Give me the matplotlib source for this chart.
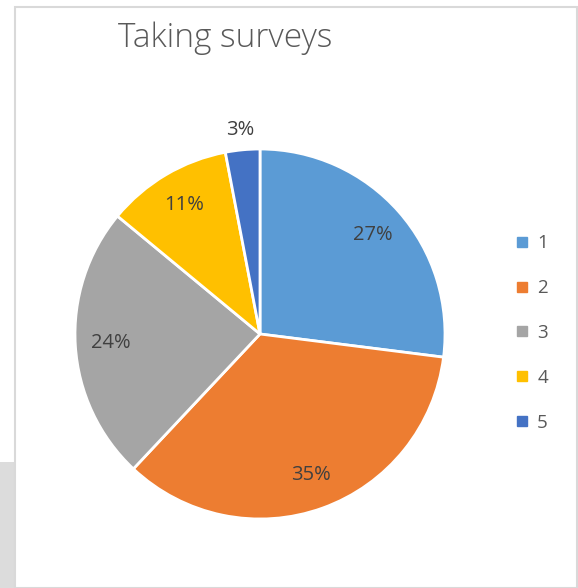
import matplotlib.pyplot as plt
import numpy as np
from matplotlib.lines import Line2D
from matplotlib.patches import Rectangle

plt.rcParams['font.family'] = ['Open Sans', 'DejaVu Sans']

labels = ['1', '2', '3', '4', '5']
values = [27, 35, 24, 11, 3]
colors = ['#5B9BD5', '#ED7D31', '#A5A5A5', '#FFC000', '#4472C4']

W, H = 578, 588
fig = plt.figure(figsize=(W / 100, H / 100), dpi=100)

# bit of the page behind on the left
fig.patches.append(Rectangle((0, 0), 14 / W, (H - 462) / H, transform=fig.transFigure,
                             facecolor='#dcdcdc', edgecolor='none'))
# chart frame
fig.patches.append(Rectangle((15 / W, 0), (577 - 15) / W, (H - 7) / H, transform=fig.transFigure,
                             fill=False, edgecolor='#d9d9d9', linewidth=1.5))

cx, cy, r = 260, 334, 185
ax = fig.add_axes([(cx - r) / W, (H - cy - r) / H, 2 * r / W, 2 * r / H])

wedges, texts, autotexts = ax.pie(values, colors=colors, startangle=90, counterclock=False,
                                  autopct='%1.0f%%', pctdistance=0.81,
                                  wedgeprops=dict(edgecolor='white', linewidth=2),
                                  textprops=dict(color='#404040', fontsize=14.5))
ax.set_xlim(-1, 1)
ax.set_ylim(-1, 1)

# small slice label sits outside the pie
w = wedges[-1]
mid = np.deg2rad((w.theta1 + w.theta2) / 2)
autotexts[-1].set_position((1.11 * np.cos(mid), 1.11 * np.sin(mid)))

fig.text(225 / W, 1 - 38 / H, 'Taking surveys', ha='center', va='center',
         fontsize=24, color='#595959', fontweight='light')

handles = [Line2D([], [], marker='s', linestyle='none', markersize=7,
                  markerfacecolor=c, markeredgecolor=c) for c in colors]
fig.legend(handles, labels, loc='center left', bbox_to_anchor=(496 / W, 1 - 333 / H),
           frameon=False, fontsize=13.5, labelspacing=1.43, handlelength=1.0,
           handletextpad=0.3, labelcolor='#595959')

fig.savefig('out.png', dpi=100)
